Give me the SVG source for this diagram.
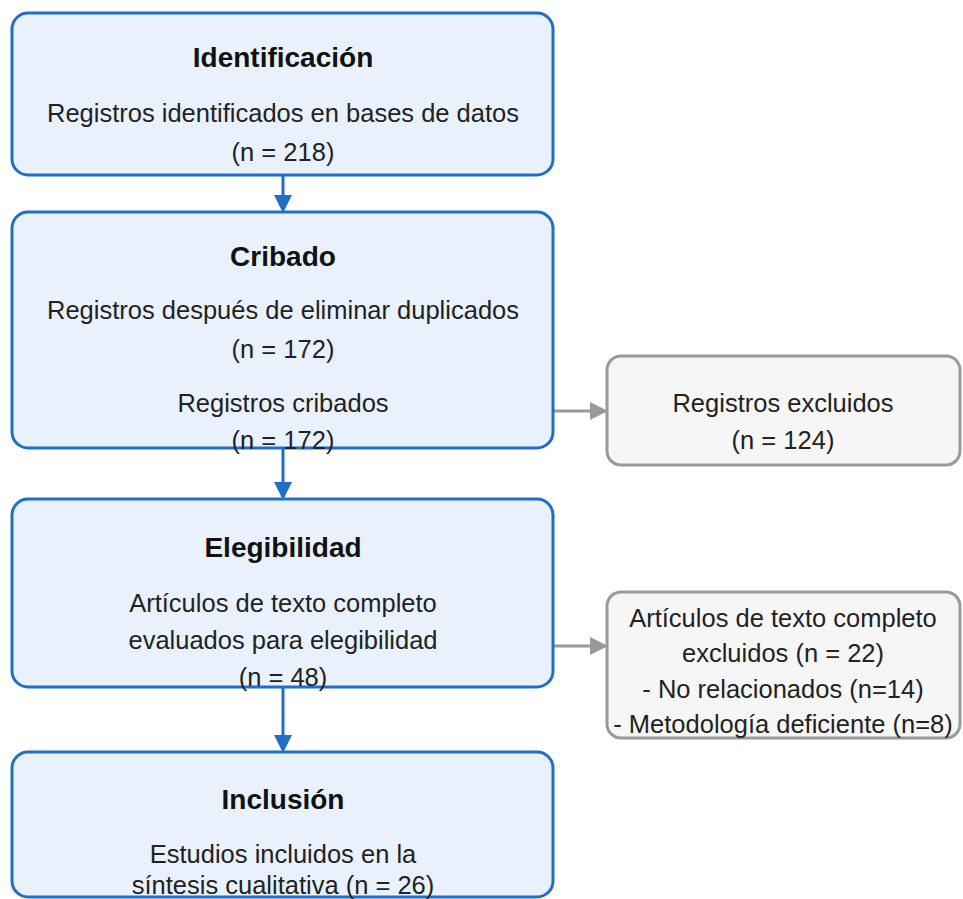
<svg xmlns="http://www.w3.org/2000/svg" width="963" height="899" viewBox="0 0 963 899">
<defs>
<style>
.bb{fill:#e9f2fc;stroke:#1f6fc8;stroke-width:3}
.gb{fill:#f6f6f6;stroke:#9a9a9a;stroke-width:3}
text{font-family:"Liberation Sans",Arial,sans-serif;font-size:25.5px;fill:#222;text-anchor:middle}
.t{font-weight:bold;font-size:28px;fill:#111}
.ba{stroke:#1f6fc8;stroke-width:3;fill:none}
.ga{stroke:#999;stroke-width:3;fill:none}
</style>
<marker id="mb" markerWidth="6" markerHeight="6" refX="5" refY="3" orient="auto" markerUnits="strokeWidth"><path d="M0,0 L6,3 L0,6 Z" fill="#1f6fc8"/></marker>
<marker id="mg" markerWidth="6" markerHeight="6" refX="5" refY="3" orient="auto" markerUnits="strokeWidth"><path d="M0,0 L6,3 L0,6 Z" fill="#999"/></marker>
</defs>
<rect width="963" height="899" fill="#fff"/>
<g id="connectors">
<line class="ba" x1="283" y1="175" x2="283" y2="210" marker-end="url(#mb)"/>
<line class="ba" x1="283" y1="448" x2="283" y2="497" marker-end="url(#mb)"/>
<line class="ba" x1="283" y1="687" x2="283" y2="750" marker-end="url(#mb)"/>
<line class="ga" x1="553" y1="411" x2="605" y2="411" marker-end="url(#mg)"/>
<line class="ga" x1="553" y1="646" x2="605" y2="646" marker-end="url(#mg)"/>
</g>
<g id="identificacion">
<rect class="bb" x="12" y="13" width="541" height="162" rx="16"/>
<text class="t" x="283" y="67">Identificación</text>
<text x="283" y="122">Registros identificados en bases de datos</text>
<text x="283" y="161">(n = 218)</text>
</g>
<g id="cribado">
<rect class="bb" x="12" y="212" width="541" height="236" rx="16"/>
<text class="t" x="283" y="266">Cribado</text>
<text x="283" y="319">Registros después de eliminar duplicados</text>
<text x="283" y="358">(n = 172)</text>
<text x="283" y="412">Registros cribados</text>
<text x="283" y="449">(n = 172)</text>
</g>
<g id="elegibilidad">
<rect class="bb" x="12" y="499" width="541" height="188" rx="16"/>
<text class="t" x="283" y="557">Elegibilidad</text>
<text x="283" y="612">Artículos de texto completo</text>
<text x="283" y="649">evaluados para elegibilidad</text>
<text x="283" y="686">(n = 48)</text>
</g>
<g id="inclusion">
<rect class="bb" x="12" y="752" width="541" height="145" rx="16"/>
<text class="t" x="283" y="809">Inclusión</text>
<text x="283" y="863">Estudios incluidos en la</text>
<text x="283" y="894">síntesis cualitativa (n = 26)</text>
</g>
<g id="excluidos">
<rect class="gb" x="607" y="356" width="353" height="109" rx="14"/>
<text x="783" y="412">Registros excluidos</text>
<text x="783" y="449">(n = 124)</text>
</g>
<g id="excluidos-texto">
<rect class="gb" x="607" y="592" width="353" height="146" rx="14"/>
<text x="783" y="627">Artículos de texto completo</text>
<text x="783" y="662">excluidos (n = 22)</text>
<text x="783" y="698">- No relacionados (n=14)</text>
<text x="783" y="733">- Metodología deficiente (n=8)</text>
</g>
</svg>
